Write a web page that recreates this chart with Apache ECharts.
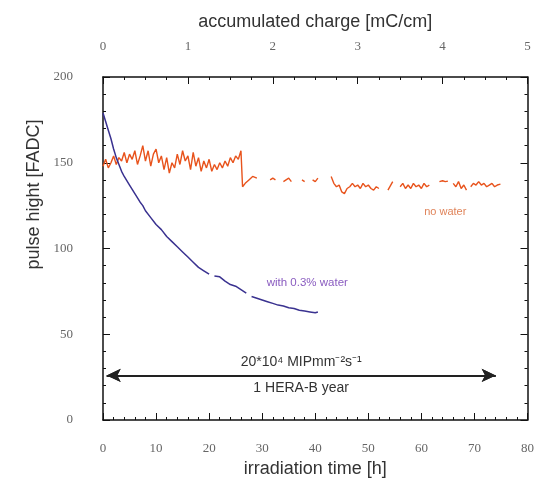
<!DOCTYPE html>
<html>
<head>
<meta charset="utf-8">
<script src="https://cdn.jsdelivr.net/npm/echarts@6/dist/echarts.min.js"></script>
<style>
html,body{margin:0;padding:0;background:#fff;}
#chart{width:537px;height:483px;}
</style>
</head>
<body>
<div id="chart"></div>
<script>
// irradiation time [h] and pulse height
var waterHours = [0, 0.5, 1, 1.5, 2, 2.5, 3, 3.5, 4, 5, 6, 7, 7.5, 8, 9, 10, 11, 12, 13, 14, 15, 16, 17, 18, 19, 20, 20.5, 21, 22, 23, 24, 25, 26, 27, 27.5, 28, 29, 30, 31, 32, 33, 34, 35, 36, 37, 38, 39, 40, 40.5];
var waterValues = [179, 174, 169, 164, 158, 153, 149, 145, 142, 137, 132, 127, 125, 122, 118, 114, 111, 107, 104, 101, 98, 95, 92, 89, 87, 85, null, 84, 83.5, 81, 79, 78, 76, 74, null, 72, 71, 70, 69, 68, 67, 66.5, 65.5, 65, 64, 63.5, 63, 62.5, 63];

var dryHours = [0, 0.5, 1, 1.5, 2, 2.5, 3, 3.5, 4, 4.5, 5, 5.5, 6, 6.5, 7, 7.5, 8, 8.5, 9, 9.5, 10, 10.5, 11, 11.5, 12, 12.5, 13, 13.5, 14, 14.5, 15, 15.5, 16, 16.5, 17, 17.5, 18, 18.5, 19, 19.5, 20, 20.5, 21, 21.5, 22, 22.5, 23, 23.5, 24, 24.5, 25, 25.5, 26, 26.3, 26.8, 27.5, 28.2, 29, 29.5,
  31.5, 32, 32.5, 33, 34, 34.5, 35, 35.5, 36, 37.5, 38, 38.5, 39.5, 40, 40.5, 41,
  43, 43.5, 44, 44.5, 45, 45.5, 46, 46.5, 47, 47.5, 48, 48.5, 49, 49.5, 50, 50.5, 51, 51.5, 52, 52.5,
  53.7, 54.6, 55,
  56, 56.5, 57, 57.5, 58, 58.5, 59, 59.5, 60, 60.5, 61, 61.5, 62,
  63.4, 64, 64.5, 65, 65.5,
  66, 66.5, 67, 67.5, 68, 68.5, 69,
  69.3, 69.8, 70.3, 70.8, 71.3, 71.8, 72.3, 72.8, 73.3, 73.8, 74.3, 74.9];
var dryValues = [148, 152, 147, 150, 154, 149, 153, 151, 156, 150, 155, 152, 157, 149, 154, 160, 151, 157, 148, 155, 158, 150, 154, 146, 153, 144, 150, 147, 155, 149, 157, 151, 154, 146, 156, 148, 153, 145, 151, 147, 152, 145, 149, 146, 150, 147, 151, 148, 153, 150, 154, 152, 157, 136, 138, 140, 142, 141, null,
  140, 141, 140, null, 139, 140, 141, 139, null, 140, 139, null, 140, 139, 141, null,
  142, 138, 136, 137, 133, 132, 135, 136, 138, 136, 137, 135, 138, 136, 137, 135, 134, 136, 135, null,
  134, 139, null,
  136, 138, 135, 137, 135, 138, 136, 137, 135, 138, 136, 137, null,
  139, 139.5, 139, 139.3, null,
  138, 136, 139, 135, 137, 134, null,
  136, 138, 137, 139, 137, 138, 136, 137, 138, 136, 137, 137.5];

var timeTicks = {min: 0, max: 80, step: 10};
var chargeTicks = {min: 0, max: 5, step: 1};
var heightTicks = {min: 0, max: 200, step: 50};

function pairs(xs, ys) {
  return xs.map(function (x, i) { return [x, ys[i]]; });
}

var labelFont = {fontFamily: 'Liberation Serif', fontSize: 13, color: '#666'};
var titleFont = {fontFamily: 'Liberation Sans', fontSize: 18, color: '#333'};
var axisBlack = {onZero: false, lineStyle: {color: '#111', width: 1.5}};
var tickIn = {inside: true, length: 7, lineStyle: {color: '#111'}};

var myChart = echarts.init(document.getElementById('chart'));
var option = {
  backgroundColor: '#fff',
  animation: false,
  grid: {left: 103, right: 6, top: 77, bottom: 62},
  xAxis: [{
    type: 'value',
    position: 'bottom',
    min: timeTicks.min, max: timeTicks.max, interval: timeTicks.step,
    name: 'irradiation time [h]',
    nameLocation: 'middle',
    nameGap: 40,
    nameTextStyle: titleFont,
    axisLine: axisBlack,
    axisTick: tickIn,
    minorTick: {show: true, splitNumber: 5, length: 3, lineStyle: {color: '#111'}},
    axisLabel: Object.assign({margin: 22}, labelFont),
    splitLine: {show: false}
  }, {
    type: 'value',
    position: 'top',
    min: chargeTicks.min, max: chargeTicks.max, interval: chargeTicks.step,
    name: 'accumulated charge [mC/cm]',
    nameLocation: 'middle',
    nameGap: 46,
    nameTextStyle: titleFont,
    axisLine: axisBlack,
    axisTick: tickIn,
    minorTick: {show: true, splitNumber: 4, length: 3, lineStyle: {color: '#111'}},
    axisLabel: Object.assign({margin: 24}, labelFont),
    splitLine: {show: false}
  }],
  yAxis: [{
    type: 'value',
    position: 'left',
    min: heightTicks.min, max: heightTicks.max, interval: heightTicks.step,
    name: 'pulse hight [FADC]',
    nameLocation: 'middle',
    nameGap: 58,
    nameTextStyle: Object.assign({padding: [0, 0, 0, 108]}, titleFont),
    axisLine: axisBlack,
    axisTick: tickIn,
    minorTick: {show: true, splitNumber: 5, length: 3, lineStyle: {color: '#111'}},
    axisLabel: Object.assign({margin: 30}, labelFont),
    splitLine: {show: false}
  }, {
    type: 'value',
    position: 'right',
    min: heightTicks.min, max: heightTicks.max, interval: heightTicks.step,
    axisLine: axisBlack,
    axisTick: tickIn,
    minorTick: {show: true, splitNumber: 5, length: 3, lineStyle: {color: '#111'}},
    axisLabel: {show: false},
    splitLine: {show: false}
  }],
  series: [{
    name: 'no water',
    type: 'line',
    data: pairs(dryHours, dryValues),
    showSymbol: false,
    connectNulls: false,
    lineStyle: {color: '#e8531c', width: 1.4},
    itemStyle: {color: '#e8531c'},
    markPoint: {
      symbol: 'circle', symbolSize: 1,
      itemStyle: {color: 'rgba(0,0,0,0)'},
      label: {show: true, position: 'inside', formatter: 'no water', fontFamily: 'Liberation Sans', fontSize: 11, color: '#e0845a'},
      data: [{coord: [64.5, 121.5]}]
    }
  }, {
    name: 'with 0.3% water',
    type: 'line',
    data: pairs(waterHours, waterValues),
    showSymbol: false,
    connectNulls: false,
    lineStyle: {color: '#3a3290', width: 1.5},
    itemStyle: {color: '#3a3290'},
    markPoint: {
      symbol: 'circle', symbolSize: 1,
      itemStyle: {color: 'rgba(0,0,0,0)'},
      label: {show: true, position: 'inside', formatter: 'with 0.3% water', fontFamily: 'Liberation Sans', fontSize: 11.5, color: '#8a5cc0'},
      data: [{coord: [38.5, 80]}]
    },
    markLine: {
      silent: true,
      symbol: ['arrow', 'arrow'],
      symbolSize: [10, 14],
      lineStyle: {color: '#222', width: 2, type: 'solid'},
      label: {fontFamily: 'Liberation Sans', fontSize: 14, color: '#333'},
      data: [
        [{coord: [0.7, 26], label: {show: true, position: 'insideMiddleTop', distance: 6, formatter: '20*10\u2074 MIPmm\u207B\u00B2s\u207B\u00B9'}}, {coord: [74, 26]}],
        [{coord: [0.7, 26], label: {show: true, position: 'insideMiddleBottom', distance: 6, formatter: '1 HERA-B year'}}, {coord: [74, 26]}]
      ]
    }
  }]
};
myChart.setOption(option);
</script>
</body>
</html>
